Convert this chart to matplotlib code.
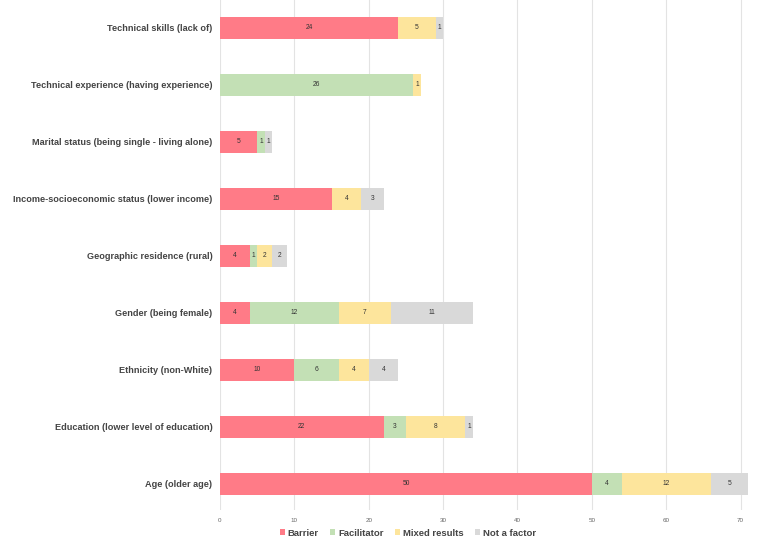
import matplotlib
matplotlib.use("Agg")
import matplotlib.pyplot as plt
import numpy as np

categories = [
    "Age (older age)",
    "Education (lower level of education)",
    "Ethnicity (non-White)",
    "Gender (being female)",
    "Geographic residence (rural)",
    "Income-socioeconomic status (lower income)",
    "Marital status (being single - living alone)",
    "Technical experience (having experience)",
    "Technical skills (lack of)",
]
barrier = [50, 22, 10, 4, 4, 15, 5, 0, 24]
facilitator = [4, 3, 6, 12, 1, 0, 1, 26, 0]
mixed = [12, 8, 4, 7, 2, 4, 0, 1, 5]
not_factor = [5, 1, 4, 11, 2, 3, 1, 0, 1]
series_names = ["Barrier", "Facilitator", "Mixed results", "Not a factor"]
colors = ["#ff7b87", "#c3e0b5", "#fde59c", "#d9d9d9"]
xticks = [0, 10, 20, 30, 40, 50, 60, 70]

plt.rcParams['font.family'] = ['Liberation Sans', 'DejaVu Sans']

fig = plt.figure(figsize=(7.57, 5.43), dpi=100)
ax = fig.add_axes([220/757, 1-510/543, (748-220)/757, 510/543])

y = np.arange(len(categories))
left = np.zeros(len(categories))
for name, vals, c in zip(series_names, [barrier, facilitator, mixed, not_factor], colors):
    vals = np.array(vals, dtype=float)
    ax.barh(y, vals, left=left, height=0.39, color=c, label=name, zorder=3)
    for yi, v, l in zip(y, vals, left):
        if v > 0:
            ax.text(l + v/2, yi, f"{int(v)}", ha='center', va='center',
                    fontsize=4.8, color='#333333', zorder=4)
    left += vals

ax.set_xlim(0, 71)
ax.set_ylim(-0.46, 8.49)
ax.set_yticks(y)
ax.set_yticklabels(categories, fontsize=6.6, fontweight='bold', color='#444444')
ax.set_xticks(xticks)
ax.set_xticklabels([str(t) for t in xticks], fontsize=4.5, color='#666666')
ax.tick_params(axis='both', length=0)
ax.tick_params(axis='y', pad=5.5)
ax.tick_params(axis='x', pad=6)
for s in ax.spines.values():
    s.set_visible(False)
ax.grid(axis='x', color='#e3e3e3', linewidth=0.8, zorder=0)
ax.set_axisbelow(True)

leg = fig.legend(loc='center', bbox_to_anchor=(408/757, 1-533/543), ncol=4,
                 frameon=False, handlelength=0.55, handleheight=0.55,
                 handletextpad=0.3, columnspacing=1.2,
                 prop={'size': 6.8, 'weight': 'bold'})
for t in leg.get_texts():
    t.set_color('#444444')

fig.savefig("out.png", dpi=100)
